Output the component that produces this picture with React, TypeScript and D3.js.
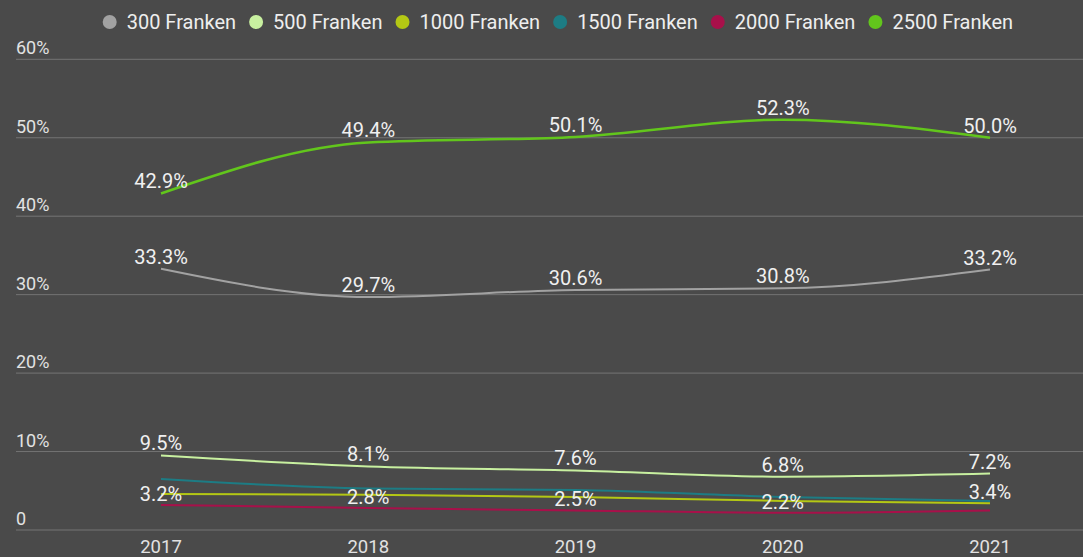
import React from "react";
import * as d3 from "d3";

const years = ["2017", "2018", "2019", "2020", "2021"];
const seriesNames = ["300 Franken", "500 Franken", "1000 Franken", "1500 Franken", "2000 Franken", "2500 Franken"];
const v300 = [33.3, 29.7, 30.6, 30.8, 33.2];
const v500 = [9.5, 8.1, 7.6, 6.8, 7.2];
const v1000 = [4.6, 4.5, 4.2, 3.7, 3.4];
const v1500 = [6.5, 5.3, 5.1, 4.2, 3.7];
const v2000 = [3.2, 2.8, 2.5, 2.2, 2.5];
const v2500 = [42.9, 49.4, 50.1, 52.3, 50.0];
const yTicks = [0, 10, 20, 30, 40, 50, 60];
// which series carries the value label in the low cluster, per year
const lowLabelSeries = [4, 4, 4, 4, 2];
const labelledSeries = [0, 1, 5];

const colors = ["#a2a2a2", "#c8f0a0", "#b4c814", "#1d7c84", "#a8104a", "#62c61c"];
const allValues = [v300, v500, v1000, v1500, v2000, v2500];

const W = 1083;
const H = 557;
const BG = "#4a4a4a";
const FONT = "Roboto, 'Noto Sans', sans-serif";

export default function App() {
  const x = d3.scalePoint<string>().domain(years).range([161, 990]);
  const y = d3.scaleLinear().domain([0, 60]).range([530, 59.3]);
  const line = d3
    .line<number>()
    .x((_, i) => x(years[i]) as number)
    .y((d) => y(d))
    .curve(d3.curveMonotoneX);

  const fmt = (v: number) => v.toFixed(1) + "%";

  // legend layout
  const legendFont = 20;
  const charW = (s: string) => {
    let w = 0;
    for (const c of s) {
      if (/[0-9]/.test(c)) w += 0.562;
      else if (c === " ") w += 0.248;
      else if (c === "F") w += 0.546;
      else if (c === "r") w += 0.338;
      else if (c === "a") w += 0.544;
      else if (c === "n") w += 0.551;
      else if (c === "k") w += 0.507;
      else if (c === "e") w += 0.529;
      else w += 0.55;
    }
    return w * legendFont;
  };
  let lx = 102.7;
  const legendItems = seriesNames.map((name, i) => {
    const cx = lx + 7;
    const tx = lx + 24;
    const tw = charW(name);
    lx = tx + tw + 12.4;
    return { name, cx, tx, color: colors[i] };
  });

  const labels: { x: number; y: number; text: string }[] = [];
  labelledSeries.forEach((si) => {
    allValues[si].forEach((v, i) => {
      labels.push({ x: x(years[i]) as number, y: y(v) - 5, text: fmt(v) });
    });
  });
  lowLabelSeries.forEach((si, i) => {
    const v = allValues[si][i];
    labels.push({ x: x(years[i]) as number, y: y(v) - 4, text: fmt(v) });
  });

  return (
    <svg
      width={W}
      height={H}
      style={{ position: "fixed", left: 0, top: 0, background: BG, fontFamily: FONT }}
    >
      <rect x={0} y={0} width={W} height={H} fill={BG} />
      {yTicks.map((t) => (
        <g key={t}>
          <line x1={16} x2={W} y1={y(t)} y2={y(t)} stroke="#747474" strokeWidth={1} />
          <text x={16} y={y(t) - 5} fill="#e2e2e2" fontSize={18}>
            {t === 0 ? "0" : t + "%"}
          </text>
        </g>
      ))}
      {years.map((yr) => (
        <text key={yr} x={x(yr)} y={552.5} fill="#e2e2e2" fontSize={18.5} textAnchor="middle">
          {yr}
        </text>
      ))}
      {[4, 2, 3, 1, 0, 5].map((si) => (
        <path
          key={si}
          d={line(allValues[si]) || ""}
          fill="none"
          stroke={colors[si]}
          strokeWidth={si === 5 ? 2.5 : 2}
        />
      ))}
      {labels.map((l, i) => (
        <text key={i} x={l.x} y={l.y} fill="#f0f0f0" fontSize={20} textAnchor="middle">
          {l.text}
        </text>
      ))}
      {legendItems.map((it) => (
        <g key={it.name}>
          <circle cx={it.cx} cy={22} r={7} fill={it.color} />
          <text x={it.tx} y={29} fill="#eeeeee" fontSize={legendFont}>
            {it.name}
          </text>
        </g>
      ))}
    </svg>
  );
}
